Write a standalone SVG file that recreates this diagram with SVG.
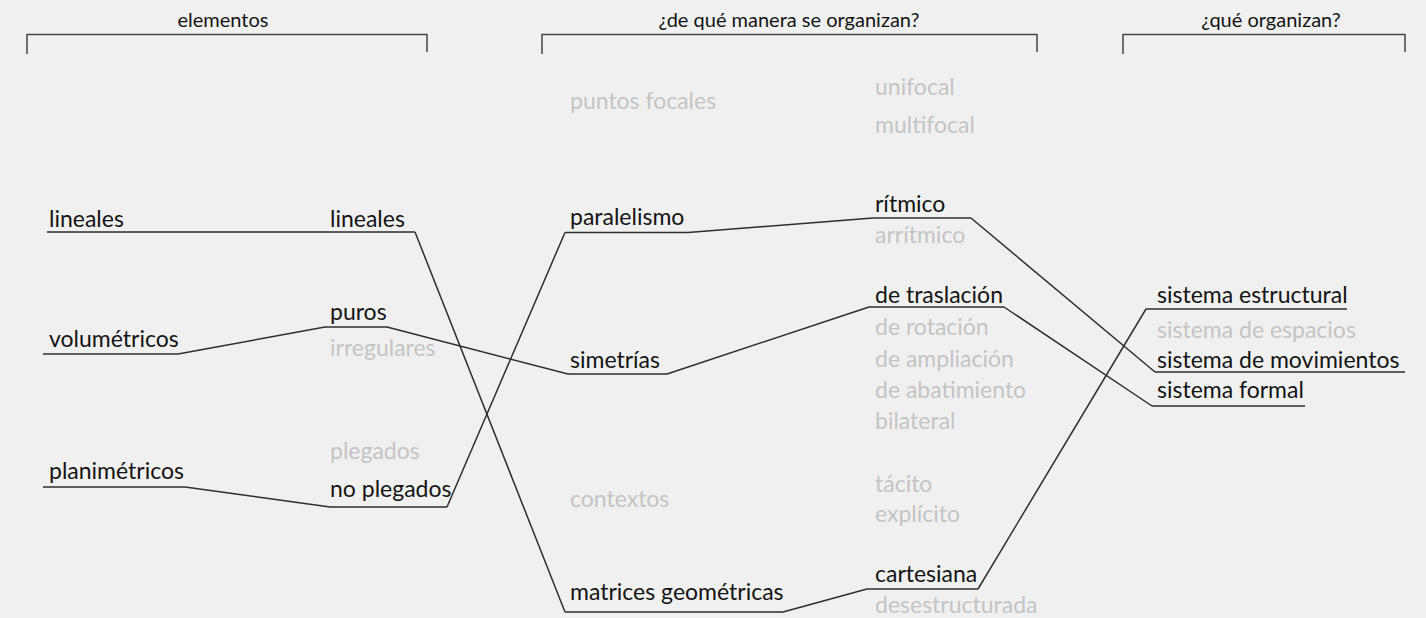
<svg xmlns="http://www.w3.org/2000/svg" width="1426" height="618" viewBox="0 0 1426 618">
<style>
text{font-family:Lato,"Open Sans","Liberation Sans",sans-serif;font-size:23px;fill:#141414}
.h{font-size:20px;text-anchor:middle}
.g{fill:#c4c4c4}
.u,.c,.b{stroke:#2e2e2e;stroke-width:1.5;fill:none}
.b{stroke:#444}
</style>
<rect width="1426" height="618" fill="#f0f0f0"/>
<g id="header-elementos"><text class="h" x="223" y="27">elementos</text><path class="b" d="M27,54V34.5H427V52"/></g>
<g id="header-manera"><text class="h" x="789" y="27">¿de qué manera se organizan?</text><path class="b" d="M542,54V34.5H1037V52"/></g>
<g id="header-que"><text class="h" x="1271" y="27">¿qué organizan?</text><path class="b" d="M1123,54V34.5H1405V52"/></g>

<g id="n-lineales"><text x="49" y="226.5">lineales</text><path class="u" d="M47,232H200"/></g>
<g id="n-volumetricos"><text x="49" y="347">volumétricos</text><path class="u" d="M43,354H178"/></g>
<g id="n-planimetricos"><text x="49" y="479">planimétricos</text><path class="u" d="M43,487H185"/></g>

<g id="n-lineales2"><text x="330" y="226.5">lineales</text><path class="u" d="M200,232H415"/></g>
<g id="n-puros"><text x="330" y="319.5">puros</text><path class="u" d="M325,327H387"/></g>
<g id="n-irregulares"><text class="g" x="330" y="356">irregulares</text></g>
<g id="n-plegados"><text class="g" x="330" y="459">plegados</text></g>
<g id="n-noplegados"><text x="330" y="497">no plegados</text><path class="u" d="M330,507H447"/></g>

<g id="n-puntosfocales"><text class="g" x="570" y="109">puntos focales</text></g>
<g id="n-paralelismo"><text x="570" y="225">paralelismo</text><path class="u" d="M565,232.5H688"/></g>
<g id="n-simetrias"><text x="570" y="368">simetrías</text><path class="u" d="M568,374H667"/></g>
<g id="n-contextos"><text class="g" x="570" y="507">contextos</text></g>
<g id="n-matrices"><text x="570" y="600">matrices geométricas</text><path class="u" d="M565,612H783"/></g>

<g id="n-unifocal"><text class="g" x="875" y="95">unifocal</text></g>
<g id="n-multifocal"><text class="g" x="875" y="133">multifocal</text></g>
<g id="n-ritmico"><text x="875" y="211.5">rítmico</text><path class="u" d="M873,218H971"/></g>
<g id="n-arritmico"><text class="g" x="875" y="243">arrítmico</text></g>
<g id="n-traslacion"><text x="875" y="303">de traslación</text><path class="u" d="M869,307H1004"/></g>
<g id="n-rotacion"><text class="g" x="875" y="335">de rotación</text></g>
<g id="n-ampliacion"><text class="g" x="875" y="367">de ampliación</text></g>
<g id="n-abatimiento"><text class="g" x="875" y="398">de abatimiento</text></g>
<g id="n-bilateral"><text class="g" x="875" y="429">bilateral</text></g>
<g id="n-tacito"><text class="g" x="875" y="492">tácito</text></g>
<g id="n-explicito"><text class="g" x="875" y="522">explícito</text></g>
<g id="n-cartesiana"><text x="875" y="582">cartesiana</text><path class="u" d="M867,589H978"/></g>
<g id="n-desestructurada"><text class="g" x="875" y="613">desestructurada</text></g>

<g id="n-estructural"><text x="1157" y="303">sistema estructural</text><path class="u" d="M1146,309H1347"/></g>
<g id="n-espacios"><text class="g" x="1157" y="338">sistema de espacios</text></g>
<g id="n-movimientos"><text x="1157" y="368">sistema de movimientos</text><path class="u" d="M1155,372H1405"/></g>
<g id="n-formal"><text x="1157" y="398">sistema formal</text><path class="u" d="M1152,406H1305"/></g>

<g id="connectors">
<path class="c" d="M178,354L325,327"/>
<path class="c" d="M387,327L568,374"/>
<path class="c" d="M667,374L869,307"/>
<path class="c" d="M1004,307L1152,406"/>
<path class="c" d="M185,487L330,507"/>
<path class="c" d="M447,507L565,232.5"/>
<path class="c" d="M688,232.5L873,218"/>
<path class="c" d="M971,218L1155,372"/>
<path class="c" d="M415,232L565,612"/>
<path class="c" d="M783,612L867,589"/>
<path class="c" d="M978,589L1146,309"/>
</g>
</svg>
